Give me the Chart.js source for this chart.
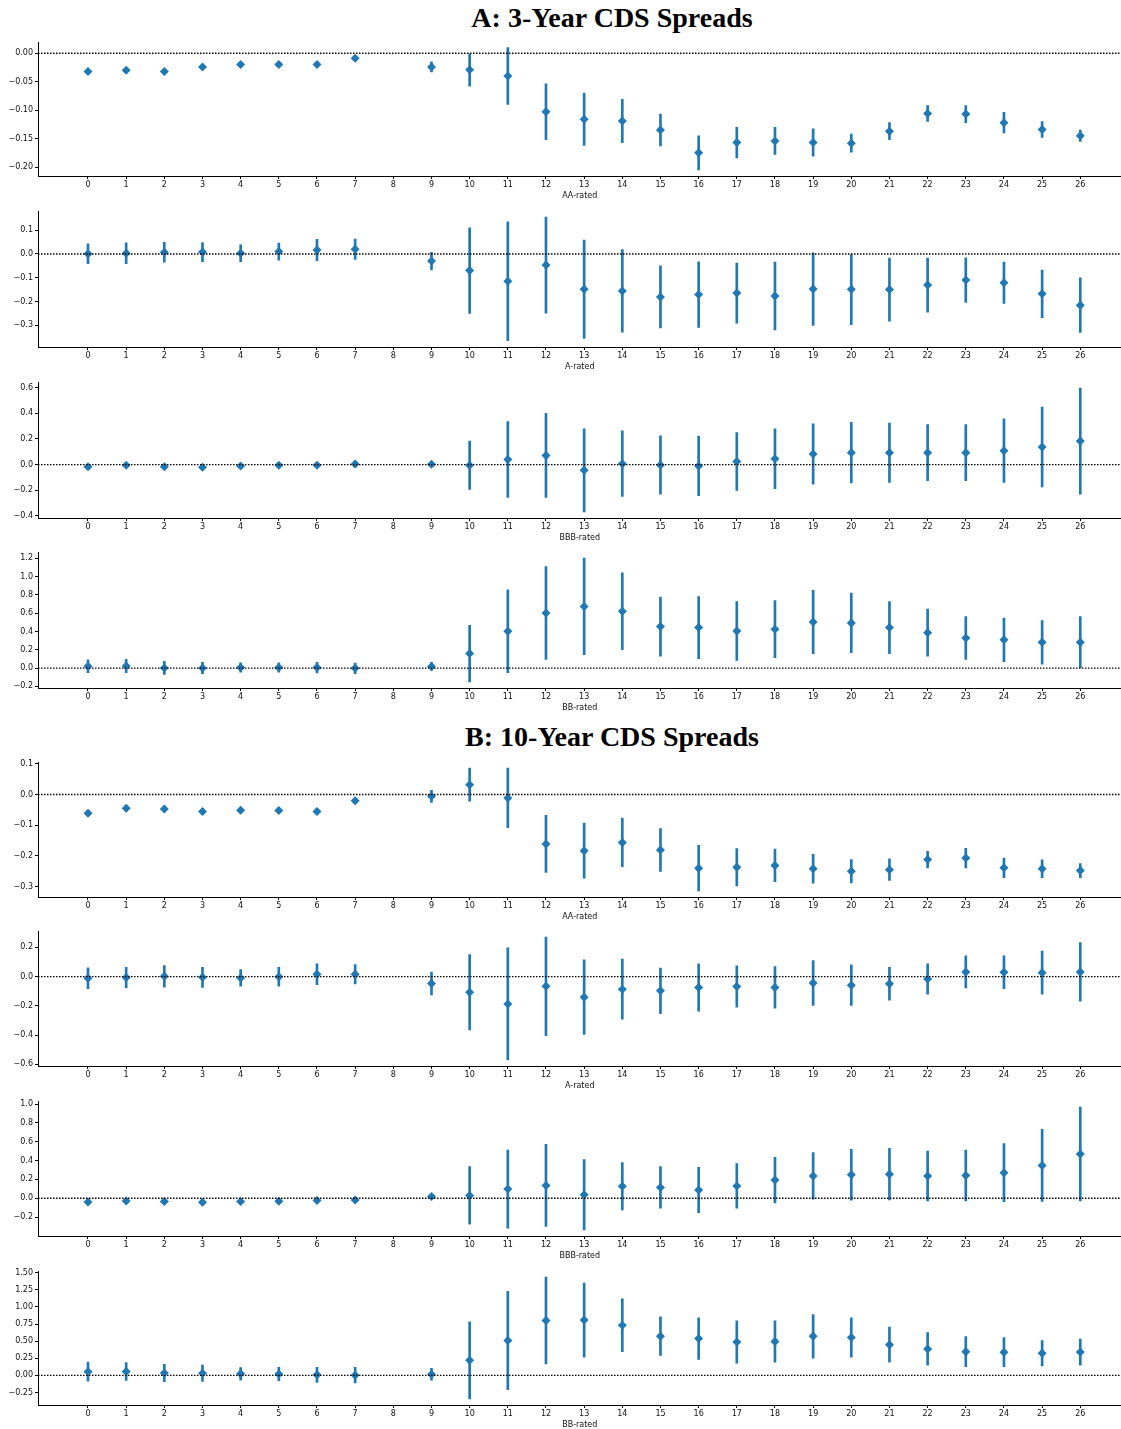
<!DOCTYPE html>
<html>
<head>
<meta charset="utf-8">
<script src="https://cdn.jsdelivr.net/npm/chart.js@4.4.1/dist/chart.umd.min.js"></script>
<style>
body { margin: 0; background: #fff; }
#wrap { position: relative; width: 1121px; height: 1429px; overflow: hidden; }
canvas { position: absolute; left: 0; }
.ttl { position: absolute; left: 0; width: 1224px; text-align: center; line-height: 30px;
       font-family: "Liberation Serif", "Times New Roman", serif; font-weight: bold; font-size: 28px; color: #000; }
</style>
</head>
<body>
<div id="wrap">
  <div class="ttl" style="top:3px">A: 3-Year CDS Spreads</div>
  <div class="ttl" style="top:722px">B: 10-Year CDS Spreads</div>
</div>
<script>
// horizons on the x axis (8 has no estimate)
const horizons = [0,1,2,3,4,5,6,7,8,9,10,11,12,13,14,15,16,17,18,19,20,21,22,23,24,25,26];

// A: 3-year CDS spreads, point estimates and half-widths of the bars
const a3AA    = [-0.032,-0.030,-0.032,-0.024,-0.020,-0.020,-0.020,-0.009,null,-0.024,-0.029,-0.040,-0.103,-0.116,-0.119,-0.135,-0.175,-0.157,-0.154,-0.157,-0.158,-0.137,-0.106,-0.107,-0.122,-0.134,-0.145];
const a3AAerr = [0.003,0.003,0.003,0.003,0.003,0.003,0.003,0.003,null,0.009,0.029,0.050,0.049,0.046,0.038,0.028,0.030,0.027,0.024,0.024,0.016,0.015,0.014,0.015,0.018,0.014,0.010];

const a3A    = [0.001,0.003,0.007,0.008,0.003,0.010,0.017,0.020,null,-0.030,-0.070,-0.115,-0.047,-0.149,-0.156,-0.181,-0.171,-0.165,-0.177,-0.148,-0.149,-0.150,-0.131,-0.110,-0.121,-0.168,-0.216];
const a3Aerr = [0.042,0.044,0.042,0.040,0.035,0.036,0.045,0.043,null,0.037,0.180,0.250,0.202,0.207,0.174,0.131,0.138,0.127,0.143,0.153,0.149,0.133,0.114,0.094,0.087,0.100,0.115];

const a3BBB    = [-0.016,-0.005,-0.016,-0.021,-0.010,-0.005,-0.005,0.005,null,0.002,-0.005,0.039,0.072,-0.045,0.007,-0.003,-0.010,0.024,0.046,0.083,0.093,0.093,0.093,0.093,0.109,0.137,0.184];
const a3BBBerr = [0.015,0.015,0.015,0.015,0.013,0.013,0.013,0.025,null,0.020,0.189,0.296,0.329,0.325,0.256,0.227,0.233,0.226,0.234,0.235,0.237,0.232,0.219,0.219,0.248,0.312,0.414];

const a3BB    = [0.020,0.022,0.002,0.000,0.007,0.007,0.005,-0.003,null,0.018,0.159,0.402,0.602,0.673,0.620,0.453,0.442,0.405,0.425,0.503,0.493,0.442,0.387,0.328,0.308,0.281,0.281];
const a3BBerr = [0.071,0.073,0.071,0.062,0.051,0.051,0.057,0.058,null,0.044,0.309,0.452,0.507,0.527,0.420,0.322,0.340,0.321,0.312,0.347,0.325,0.285,0.256,0.234,0.239,0.237,0.281];

// B: 10-year CDS spreads
const b10AA    = [-0.061,-0.045,-0.047,-0.055,-0.051,-0.052,-0.055,-0.020,null,-0.006,0.032,-0.011,-0.161,-0.183,-0.156,-0.181,-0.240,-0.237,-0.231,-0.242,-0.250,-0.245,-0.212,-0.207,-0.239,-0.242,-0.248];
const b10AAerr = [0.009,0.009,0.009,0.009,0.009,0.009,0.009,0.009,null,0.020,0.054,0.097,0.093,0.090,0.079,0.070,0.074,0.061,0.053,0.047,0.038,0.035,0.027,0.032,0.032,0.029,0.023];

const b10A    = [-0.011,-0.007,0.002,-0.005,-0.009,-0.001,0.016,0.016,null,-0.048,-0.107,-0.187,-0.067,-0.141,-0.086,-0.097,-0.075,-0.068,-0.074,-0.044,-0.059,-0.049,-0.017,0.032,0.030,0.027,0.032];
const b10Aerr = [0.071,0.071,0.074,0.069,0.057,0.065,0.071,0.066,null,0.078,0.258,0.384,0.337,0.255,0.205,0.156,0.162,0.141,0.143,0.154,0.139,0.113,0.104,0.110,0.112,0.148,0.201];

const b10BBB    = [-0.040,-0.028,-0.035,-0.042,-0.035,-0.032,-0.025,-0.018,null,0.018,0.030,0.097,0.136,0.037,0.127,0.115,0.088,0.131,0.193,0.237,0.249,0.256,0.237,0.242,0.272,0.348,0.470];
const b10BBBerr = [0.030,0.023,0.025,0.022,0.020,0.022,0.021,0.024,null,0.018,0.306,0.415,0.436,0.373,0.251,0.221,0.240,0.237,0.242,0.248,0.270,0.274,0.265,0.270,0.308,0.383,0.498];

const b10BB    = [0.055,0.058,0.034,0.032,0.024,0.020,0.008,0.003,null,0.017,0.220,0.510,0.802,0.807,0.732,0.573,0.537,0.488,0.495,0.570,0.554,0.449,0.387,0.346,0.339,0.324,0.341];
const b10BBerr = [0.138,0.131,0.126,0.119,0.092,0.097,0.109,0.114,null,0.085,0.563,0.718,0.633,0.541,0.384,0.283,0.305,0.309,0.302,0.319,0.288,0.256,0.237,0.220,0.213,0.184,0.191];

// y tick labels of each panel
const ticksA_AA  = [0, -0.05, -0.10, -0.15, -0.20];
const ticksA_A   = [0.1, 0, -0.1, -0.2, -0.3];
const ticksA_BBB = [0.6, 0.4, 0.2, 0, -0.2, -0.4];
const ticksA_BB  = [1.2, 1.0, 0.8, 0.6, 0.4, 0.2, 0, -0.2];
const ticksB_AA  = [0.1, 0, -0.1, -0.2, -0.3];
const ticksB_A   = [0.2, 0, -0.2, -0.4, -0.6];
const ticksB_BBB = [1.0, 0.8, 0.6, 0.4, 0.2, 0, -0.2];
const ticksB_BB  = [1.50, 1.25, 1.00, 0.75, 0.50, 0.25, 0, -0.25];

const BLUE = '#1f77b4';
const X_MIN = -1.31, X_MAX = 27.08;
const PAD = 10, XH = 28, YW = 38;
const FONT = { family: 'DejaVu Sans', size: 8 };

const panels = [
  { mean: a3AA,   err: a3AAerr,   label: 'AA-rated',  ticks: ticksA_AA,  dec: 2, min: -0.2157, max: 0.0197, top: 42,   bottom: 176 },
  { mean: a3A,    err: a3Aerr,    label: 'A-rated',   ticks: ticksA_A,   dec: 1, min: -0.392,  max: 0.181,  top: 211,  bottom: 347 },
  { mean: a3BBB,  err: a3BBBerr,  label: 'BBB-rated', ticks: ticksA_BBB, dec: 1, min: -0.417,  max: 0.645,  top: 382,  bottom: 518 },
  { mean: a3BB,   err: a3BBerr,   label: 'BB-rated',  ticks: ticksA_BB,  dec: 1, min: -0.2175, max: 1.2675, top: 552,  bottom: 688 },
  { mean: b10AA,  err: b10AAerr,  label: 'AA-rated',  ticks: ticksB_AA,  dec: 1, min: -0.334,  max: 0.106,  top: 762,  bottom: 897 },
  { mean: b10A,   err: b10Aerr,   label: 'A-rated',   ticks: ticksB_A,   dec: 1, min: -0.612,  max: 0.312,  top: 931,  bottom: 1066 },
  { mean: b10BBB, err: b10BBBerr, label: 'BBB-rated', ticks: ticksB_BBB, dec: 1, min: -0.401,  max: 1.033,  top: 1101, bottom: 1236 },
  { mean: b10BB,  err: b10BBerr,  label: 'BB-rated',  ticks: ticksB_BB,  dec: 2, min: -0.432,  max: 1.524,  top: 1271, bottom: 1405 }
];

function fmt(v, dec) {
  const s = Math.abs(v).toFixed(dec);
  return (v < -1e-9 ? '\u2212' : '') + s;
}

const wrap = document.getElementById('wrap');

function makePanel(p) {
  const cv = document.createElement('canvas');
  // a bit wider than the page: the chart loses a few px on the right, the wrapper clips the rest
  cv.width = 1126;
  cv.height = PAD + (p.bottom - p.top) + XH;
  cv.style.top = (p.top - PAD) + 'px';
  wrap.appendChild(cv);

  const pts = [], bars = [];
  horizons.forEach((x, i) => {
    if (p.mean[i] == null) return;
    pts.push({ x: x, y: p.mean[i] });
    bars.push({ x: x, y: [p.mean[i] - p.err[i], p.mean[i] + p.err[i]] });
  });

  const axisLine = { display: true, color: '#000', width: 1 };
  const tickMarks = { display: true, offset: false, drawOnChartArea: false, drawTicks: true, tickLength: 3, tickColor: '#000', tickWidth: 1 };

  new Chart(cv, {
    type: 'scatter',
    data: {
      datasets: [
        { type: 'line', data: [{ x: X_MIN, y: 0 }, { x: X_MAX, y: 0 }], borderColor: '#000', borderWidth: 1.4,
          borderDash: [1.5, 1.5], pointRadius: 0, order: 0 },
        { type: 'scatter', data: pts, pointStyle: 'rectRot', pointRadius: 4.5, pointBackgroundColor: BLUE,
          pointBorderColor: BLUE, pointBorderWidth: 0, order: 1 },
        { type: 'bar', data: bars, backgroundColor: BLUE, barThickness: 2, grouped: false, order: 2 }
      ]
    },
    options: {
      responsive: false,
      animation: false,
      events: [],
      layout: { padding: { top: PAD, left: 0, right: 0, bottom: 0 } },
      plugins: { legend: { display: false }, tooltip: { enabled: false } },
      scales: {
        x: {
          type: 'linear', min: X_MIN, max: X_MAX, offset: false,
          afterBuildTicks: a => { a.ticks = horizons.map(v => ({ value: v })); },
          afterFit: s => { s.height = XH; },
          grid: tickMarks, border: axisLine,
          ticks: { font: FONT, color: '#111', padding: 1, maxRotation: 0, autoSkip: false, callback: v => String(v) },
          title: { display: true, text: p.label, font: FONT, color: '#111', padding: { top: 0, bottom: 3 } }
        },
        y: {
          type: 'linear', min: p.min, max: p.max,
          afterBuildTicks: a => { a.ticks = p.ticks.map(v => ({ value: v })); },
          afterFit: s => { s.width = YW; },
          grid: tickMarks, border: axisLine,
          ticks: { font: FONT, color: '#111', padding: 2, callback: v => fmt(v, p.dec) }
        }
      }
    }
  });
}

panels.forEach(makePanel);
</script>
</body>
</html>
